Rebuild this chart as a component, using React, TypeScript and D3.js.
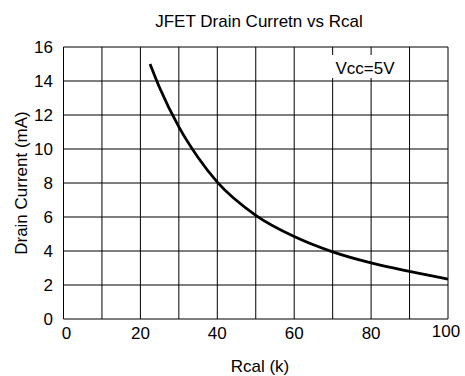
import React, { useRef, useEffect } from 'react';
import * as d3 from 'd3';

// curve
const rcal = [22.5, 25, 30, 35, 40, 50, 60, 70, 80, 90, 100];
const drainCurrent = [15, 13.6, 11.3, 9.5, 8.05, 6.1, 4.85, 3.95, 3.3, 2.8, 2.35];
const xTicks = [0, 20, 40, 60, 80, 100];
const yTicks = [0, 2, 4, 6, 8, 10, 12, 14, 16];
const xGrid = [0, 10, 20, 30, 40, 50, 60, 70, 80, 90, 100];

export default function App() {
  const svgRef = useRef<SVGSVGElement>(null);

  useEffect(() => {
    const width = 465;
    const height = 376;
    const margin = { top: 47, right: 17, bottom: 57, left: 63.5 };
    const w = width - margin.left - margin.right;
    const h = height - margin.top - margin.bottom;
    const font = 'Liberation Sans, Arial, sans-serif';

    const svg = d3.select(svgRef.current);
    svg.selectAll('*').remove();
    svg.append('rect').attr('width', width).attr('height', height).attr('fill', 'white');

    const g = svg.append('g').attr('transform', `translate(${margin.left},${margin.top})`);

    const x = d3.scaleLinear().domain([0, 100]).range([0, w]);
    const y = d3.scaleLinear().domain([0, 16]).range([h, 0]);

    // grid
    g.selectAll('.vgrid')
      .data(xGrid)
      .enter()
      .append('line')
      .attr('x1', d => x(d)).attr('x2', d => x(d))
      .attr('y1', 0).attr('y2', h)
      .attr('stroke', '#000')
      .attr('stroke-width', 1);
    g.selectAll('.hgrid')
      .data(yTicks)
      .enter()
      .append('line')
      .attr('x1', 0).attr('x2', w)
      .attr('y1', d => y(d)).attr('y2', d => y(d))
      .attr('stroke', '#000')
      .attr('stroke-width', 1);

    // label box
    g.append('rect')
      .attr('x', 268).attr('y', 8)
      .attr('width', 75).attr('height', 23)
      .attr('fill', 'white');
    g.append('text')
      .attr('x', 272).attr('y', 27)
      .style('font-family', font).style('font-size', '17px')
      .text('Vcc=5V');

    // curve
    const line = d3.line<number>()
      .x((d, i) => x(rcal[i]))
      .y(d => y(d))
      .curve(d3.curveMonotoneX);
    g.append('path')
      .datum(drainCurrent)
      .attr('fill', 'none')
      .attr('stroke', '#000')
      .attr('stroke-width', 2.8)
      .attr('d', line);

    // tick labels
    g.selectAll('.xl')
      .data(xTicks)
      .enter()
      .append('text')
      .attr('x', d => (d === 100 ? x(d) - 2 : d === 0 ? x(d) + 3 : x(d)))
      .attr('y', d => (d === 100 ? h + 18 : h + 20))
      .attr('text-anchor', 'middle')
      .style('font-family', font).style('font-size', '17px')
      .text(d => d);
    g.selectAll('.yl')
      .data(yTicks)
      .enter()
      .append('text')
      .attr('x', -10.5)
      .attr('y', d => y(d) + 6)
      .attr('text-anchor', 'end')
      .style('font-family', font).style('font-size', '17px')
      .text(d => d);

    // titles
    svg.append('text')
      .attr('x', 259).attr('y', 27)
      .attr('text-anchor', 'middle')
      .style('font-family', font).style('font-size', '17px')
      .text('JFET Drain Curretn vs Rcal');
    svg.append('text')
      .attr('x', 260).attr('y', 372)
      .attr('text-anchor', 'middle')
      .style('font-family', font).style('font-size', '17px')
      .text('Rcal (k)');
    svg.append('text')
      .attr('transform', `translate(27,${margin.top + h / 2}) rotate(-90)`)
      .attr('text-anchor', 'middle')
      .style('font-family', font).style('font-size', '17px')
      .text('Drain Current (mA)');
  }, []);

  return (
    <svg ref={svgRef} width={465} height={376} style={{ position: 'absolute', left: 0, top: 0 }}></svg>
  );
}
